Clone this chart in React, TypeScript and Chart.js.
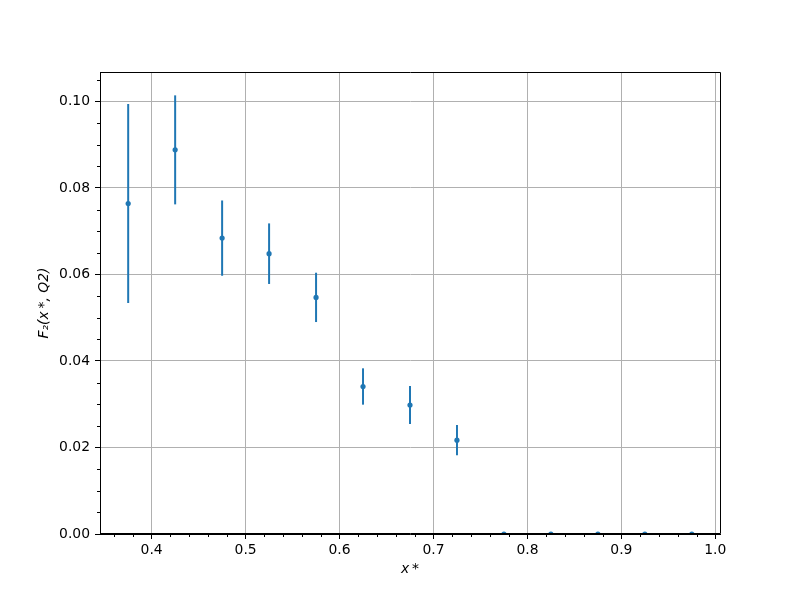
import React, { useEffect, useRef } from "react";
import { Chart, registerables } from "chart.js";

Chart.register(...registerables);

// ---- data ----
const xValues = [0.375, 0.425, 0.475, 0.525, 0.575, 0.625, 0.675, 0.725, 0.775, 0.825, 0.875, 0.925, 0.975];
const f2Values = [0.0764, 0.0888, 0.0684, 0.0648, 0.0547, 0.0341, 0.0298, 0.0217, 0, 0, 0, 0, 0];
const f2Errors = [0.023, 0.0126, 0.0087, 0.007, 0.0057, 0.0042, 0.0044, 0.0035, 0, 0, 0, 0, 0];

const xTickValues = [0.4, 0.5, 0.6, 0.7, 0.8, 0.9, 1.0];
const xTickLabels = ["0.4", "0.5", "0.6", "0.7", "0.8", "0.9", "1.0"];
const yTickValues = [0, 0.02, 0.04, 0.06, 0.08, 0.1];
const yTickLabels = ["0.00", "0.02", "0.04", "0.06", "0.08", "0.10"];

const xMin = 0.345;
const xMax = 1.005;
const yMin = 0;
const yMax = 0.1068;
const xMinorStep = 0.02;
const yMinorStep = 0.005;

const xTitle = "x\u2009*";
const yTitle = "F\u2082(x\u2009*, Q2)";

const COLOR = "#1f77b4";
const FONT = "'DejaVu Sans', sans-serif";

const errorBarPlugin = {
  id: "errorBarsAndFrame",
  beforeDatasetsDraw(chart: any) {
    const { ctx, chartArea, scales } = chart;
    const x = scales.x;
    const y = scales.y;
    ctx.save();
    ctx.beginPath();
    ctx.rect(chartArea.left, chartArea.top, chartArea.right - chartArea.left, chartArea.bottom - chartArea.top);
    ctx.clip();
    ctx.strokeStyle = COLOR;
    ctx.lineWidth = 2;
    xValues.forEach((xv, i) => {
      const e = f2Errors[i];
      if (!e) return;
      const px = x.getPixelForValue(xv);
      ctx.beginPath();
      ctx.moveTo(px, y.getPixelForValue(f2Values[i] - e));
      ctx.lineTo(px, y.getPixelForValue(f2Values[i] + e));
      ctx.stroke();
    });
    ctx.restore();
  },
  afterDraw(chart: any) {
    const { ctx, chartArea, scales } = chart;
    const x = scales.x;
    const y = scales.y;
    ctx.save();
    ctx.strokeStyle = "#000";
    ctx.lineWidth = 1;
    const l = Math.round(chartArea.left) + 0.5;
    const r = Math.round(chartArea.right) + 0.5;
    const t = Math.round(chartArea.top) + 0.5;
    const b = Math.round(chartArea.bottom) - 0.5;
    ctx.beginPath();
    ctx.moveTo(l, t);
    ctx.lineTo(r, t);
    ctx.lineTo(r, b);
    ctx.moveTo(l, t);
    ctx.lineTo(l, b);
    ctx.lineTo(r, b);
    ctx.stroke();
    // minor ticks
    const kx0 = Math.ceil(xMin / xMinorStep - 1e-9);
    const kx1 = Math.floor(xMax / xMinorStep + 1e-9);
    ctx.beginPath();
    for (let k = kx0; k <= kx1; k++) {
      if (k % 5 === 0) continue;
      const px = Math.round(x.getPixelForValue(k * xMinorStep)) + 0.5;
      ctx.moveTo(px, chartArea.bottom);
      ctx.lineTo(px, chartArea.bottom + 3);
    }
    const ky0 = Math.ceil(yMin / yMinorStep - 1e-9);
    const ky1 = Math.floor(yMax / yMinorStep + 1e-9);
    for (let k = ky0; k <= ky1; k++) {
      if (k % 4 === 0) continue;
      const py = Math.round(y.getPixelForValue(k * yMinorStep)) + 0.5;
      ctx.moveTo(chartArea.left, py);
      ctx.lineTo(chartArea.left - 3, py);
    }
    ctx.stroke();
    ctx.restore();
  },
};

export default function App() {
  const canvasRef = useRef<HTMLCanvasElement | null>(null);

  useEffect(() => {
    document.body.style.margin = "0";
    const canvas = canvasRef.current;
    if (!canvas) return;
    const chart = new Chart(canvas, {
      type: "scatter",
      data: {
        datasets: [
          {
            label: "F2",
            data: xValues.map((xv, i) => ({ x: xv, y: f2Values[i] })),
            backgroundColor: COLOR,
            borderColor: COLOR,
            borderWidth: 0,
            pointRadius: 2.6,
            pointHoverRadius: 2.6,
            clip: 0,
          } as any,
        ],
      },
      options: {
        responsive: false,
        animation: false,
        events: [],
        layout: { padding: { top: 72, right: 80, left: 0, bottom: 0 } },
        plugins: {
          legend: { display: false },
          tooltip: { enabled: false },
          title: { display: false },
        },
        scales: {
          x: {
            type: "linear",
            min: xMin,
            max: xMax,
            afterBuildTicks: (scale: any) => {
              scale.ticks = xTickValues.map((v) => ({ value: v }));
            },
            afterFit: (scale: any) => {
              scale.height = 66;
            },
            ticks: {
              color: "#000",
              font: { family: FONT, size: 13.9 },
              padding: 3,
              maxRotation: 0,
              autoSkip: false,
              callback: (_v: any, i: number) => xTickLabels[i],
            },
            grid: {
              color: "#b0b0b0",
              lineWidth: 1,
              tickColor: "#000",
              tickLength: 5,
              drawTicks: true,
            },
            border: { display: true, color: "#000", width: 1 },
            title: {
              display: true,
              text: xTitle,
              color: "#000",
              font: { family: FONT, size: 13.9, style: "italic" },
              padding: { top: 0, bottom: 22 },
            },
          },
          y: {
            type: "linear",
            min: yMin,
            max: yMax,
            afterBuildTicks: (scale: any) => {
              scale.ticks = yTickValues.map((v) => ({ value: v }));
            },
            afterFit: (scale: any) => {
              scale.width = 100;
            },
            ticks: {
              color: "#000",
              font: { family: FONT, size: 13.9 },
              padding: 5,
              autoSkip: false,
              callback: (_v: any, i: number) => yTickLabels[i],
            },
            grid: {
              color: "#b0b0b0",
              lineWidth: 1,
              tickColor: "#000",
              tickLength: 5,
              drawTicks: true,
            },
            border: { display: true, color: "#000", width: 1 },
            title: {
              display: true,
              text: yTitle,
              color: "#000",
              font: { family: FONT, size: 13.9, style: "italic" },
              padding: { top: 36, bottom: 0 },
            },
          },
        },
      },
      plugins: [errorBarPlugin],
    } as any);
    return () => {
      chart.destroy();
    };
  }, []);

  return (
    <div style={{ width: 800, height: 600, background: "#fff" }}>
      <canvas ref={canvasRef} width={800} height={600} style={{ display: "block" }} />
    </div>
  );
}
